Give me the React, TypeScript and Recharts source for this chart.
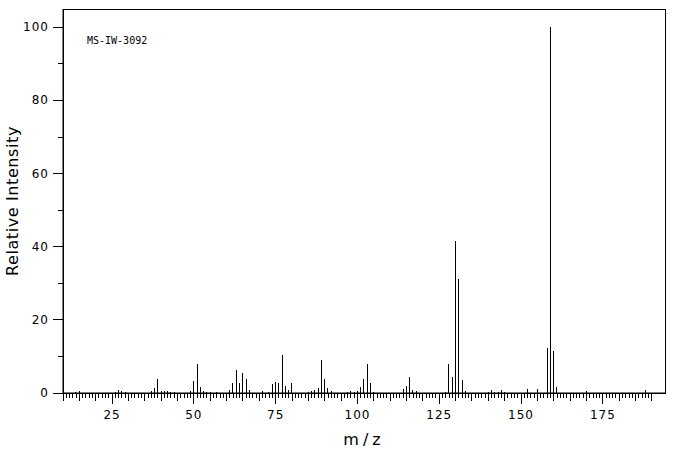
import React from 'react';
import { ComposedChart, Bar, XAxis, YAxis, ReferenceArea, Label } from 'recharts';

// Mass spectrum of MS-IW-3092, peaks.
const masses = [
  14, 15, 26, 27, 28, 29, 37, 38, 39, 40, 41, 42, 43, 44,
  49, 50, 51, 52, 53, 54, 55, 57, 61, 62, 63, 64, 65, 66, 67,
  71, 73, 74, 75, 76, 77, 78, 79, 80, 85, 86, 87, 88, 89, 90, 91, 92,
  97, 98, 99, 100, 101, 102, 103, 104, 105, 114, 115, 116, 117, 118,
  127, 128, 129, 130, 131, 132, 133, 140, 141, 142, 143, 144, 145,
  152, 155, 158, 159, 160, 161, 170, 188,
];
const intensities = [
  0.4, 0.6, 0.4, 0.9, 0.6, 0.4, 0.6, 1.5, 3.7, 0.6, 0.6, 0.6, 0.4, 0.4,
  0.6, 3.4, 8.0, 1.7, 0.6, 0.4, 0.4, 0.4, 0.9, 2.6, 6.4, 2.6, 5.6, 3.7, 0.9,
  0.6, 0.4, 2.4, 3.1, 2.6, 10.5, 2.0, 0.8, 2.6, 0.4, 0.6, 0.9, 1.5, 8.9, 3.7, 1.5, 0.6,
  0.4, 0.6, 0.4, 0.6, 1.7, 3.9, 8.0, 2.6, 0.4, 1.2, 2.0, 4.5, 0.9, 0.6,
  0.4, 7.9, 4.5, 41.6, 31.2, 3.6, 0.5, 0.4, 0.9, 0.4, 0.4, 0.9, 0.4,
  1.1, 1.1, 12.4, 100, 11.6, 1.6, 0.6, 0.9,
];

const xLabelTicks = [25, 50, 75, 100, 125, 150, 175];
const yTicks = [0, 10, 20, 30, 40, 50, 60, 70, 80, 90, 100];
const yLabelTicks = [0, 20, 40, 60, 80, 100];

// one small tick per unit of m/z from 10 to 190
const xTicks = Array.from({ length: 181 }, (_, i) => 10 + i);

const data = masses.map((m, i) => ({ mz: m, intensity: intensities[i] }));

const tickFont = { fontFamily: 'DejaVu Sans', fontSize: 12, letterSpacing: 1, fill: '#000' };

const XTick = (props: any) => {
  const { x, y, payload } = props;
  const v = payload.value;
  const len = v % 25 === 0 ? 11 : v % 5 === 0 ? 8 : 5;
  return (
    <g>
      <line x1={x} x2={x} y1={y} y2={y + len} stroke="#000" shapeRendering="crispEdges" />
      {xLabelTicks.includes(v) && (
        <text x={x} y={y + 26} textAnchor="middle" {...tickFont}>{v}</text>
      )}
    </g>
  );
};

const YTick = (props: any) => {
  const { x, y, payload } = props;
  const v = payload.value;
  const major = yLabelTicks.includes(v);
  return (
    <g>
      <line x1={x - (major ? 10 : 5)} x2={x} y1={y} y2={y} stroke="#000" shapeRendering="crispEdges" />
      {major && (
        <text x={x - 14} y={y + 4} textAnchor="end" {...tickFont}>{v}</text>
      )}
    </g>
  );
};

export default function App() {
  return (
    <div style={{ position: 'absolute', left: 0, top: 0, background: '#fff' }}>
      <ComposedChart
        width={676}
        height={455}
        data={data}
        margin={{ top: 9, right: 11, bottom: 0, left: 0 }}
      >
        <XAxis
          dataKey="mz"
          type="number"
          domain={[10, 194]}
          ticks={xTicks}
          interval={0}
          tickSize={0}
          tickMargin={0}
          tick={<XTick />}
          height={62}
          axisLine={{ stroke: '#000' }}
          tickLine={false}
        >
          <Label
            content={({ viewBox }: any) => (
              <text
                x={viewBox.x + viewBox.width / 2}
                y={viewBox.y + 52}
                textAnchor="middle"
                fontFamily="DejaVu Sans"
                fontSize={16}
                letterSpacing={4}
                fill="#000"
              >
                m/z
              </text>
            )}
          />
        </XAxis>
        <YAxis
          type="number"
          domain={[0, 105]}
          ticks={yTicks}
          interval={0}
          tickSize={0}
          tickMargin={0}
          tick={<YTick />}
          width={63}
          axisLine={{ stroke: '#000' }}
          tickLine={false}
        >
          <Label
            content={({ viewBox }: any) => {
              const cx = 12;
              const cy = viewBox.y + viewBox.height / 2;
              return (
                <text
                  x={cx}
                  y={cy}
                  transform={`rotate(-90 ${cx} ${cy})`}
                  textAnchor="middle"
                  dominantBaseline="central"
                  fontFamily="DejaVu Sans"
                  fontSize={16}
                  letterSpacing={0.6}
                  fill="#000"
                >
                  Relative Intensity
                </text>
              );
            }}
          />
        </YAxis>
        <ReferenceArea
          x1={10}
          x2={194}
          y1={0}
          y2={105}
          fill="none"
          stroke="#000"
          strokeWidth={1}
          shapeRendering="crispEdges"
        >
          <Label
            content={({ viewBox }: any) => (
              <text
                x={viewBox.x + 24}
                y={viewBox.y + 35}
                fontFamily="DejaVu Sans Mono"
                fontSize={10}
                fill="#000"
              >
                MS-IW-3092
              </text>
            )}
          />
        </ReferenceArea>
        <Bar
          dataKey="intensity"
          fill="#000"
          barSize={1}
          isAnimationActive={false}
          shapeRendering="crispEdges"
        />
      </ComposedChart>
    </div>
  );
}
